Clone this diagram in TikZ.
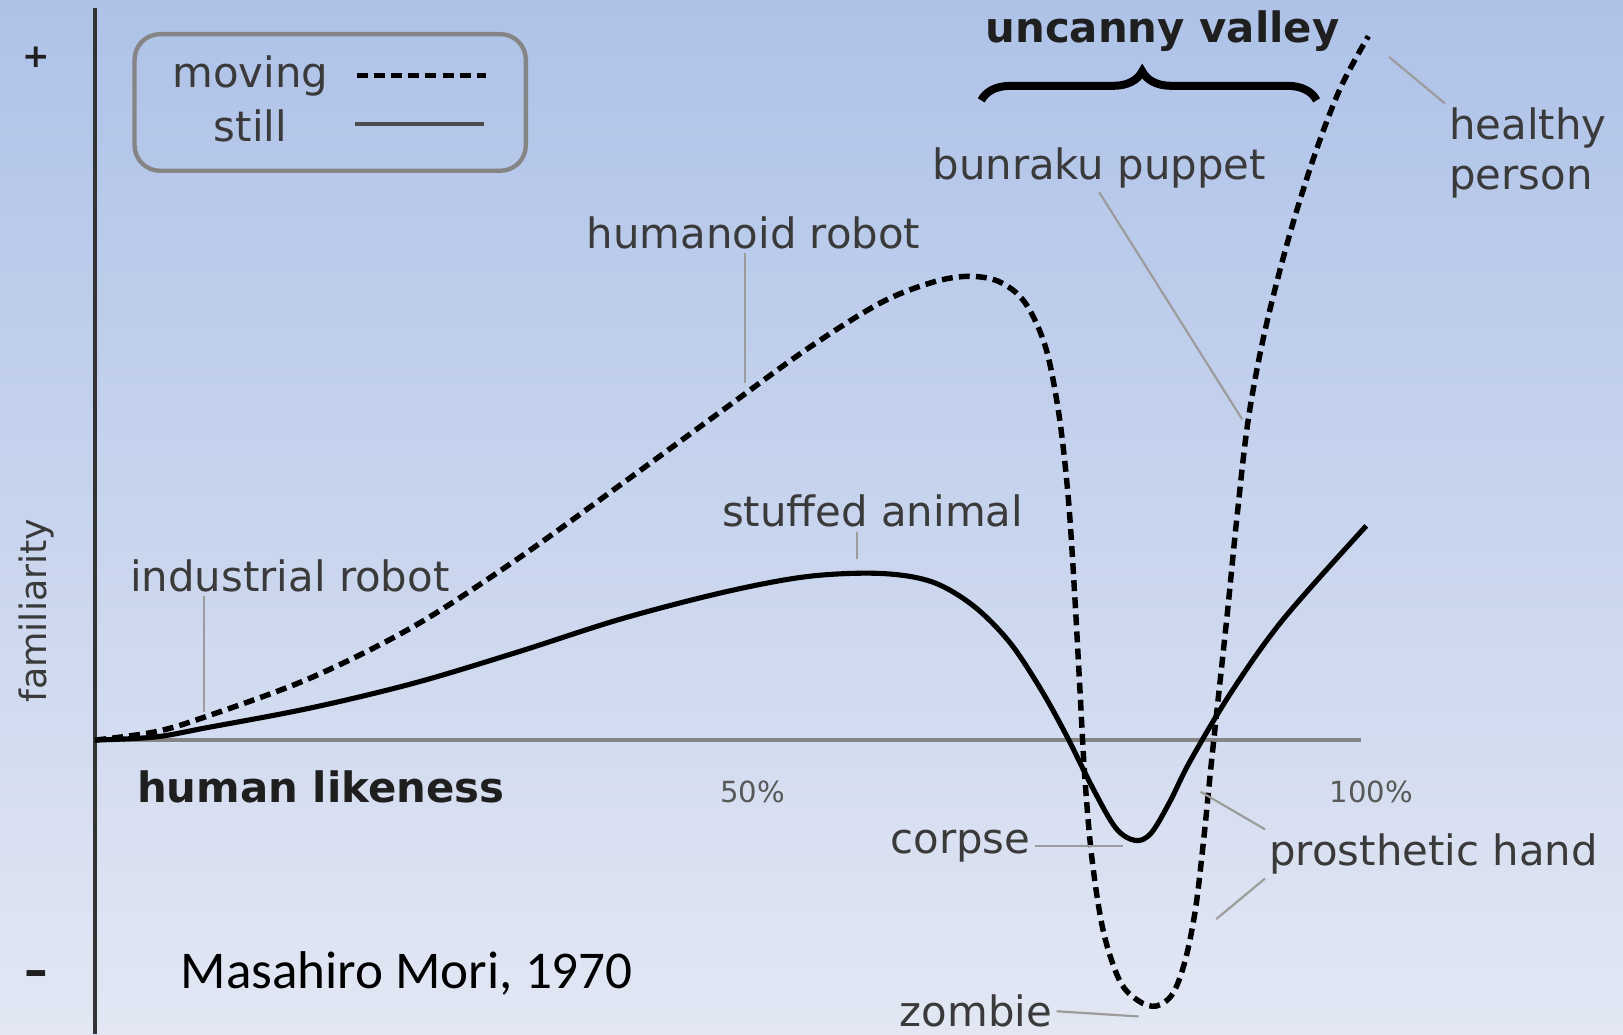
\documentclass[tikz,border=0pt]{standalone}
\usepackage{fontspec}
\setmainfont{DejaVu Sans}
\newfontfamily\carlito{Carlito}
\usepackage{tikz}
\usepackage{xcolor}
\usetikzlibrary{decorations.pathreplacing,calc}
\definecolor{bgtop}{HTML}{AEC2E8}
\definecolor{bgmid}{HTML}{C9D5EE}
\definecolor{bgbot}{HTML}{E2E7F3}
\definecolor{ink}{HTML}{3A3A3A}
\definecolor{axisgray}{HTML}{858585}
\definecolor{leadgray}{HTML}{9C9C9C}

\begin{document}
\begin{tikzpicture}[x=0.1mm,y=-0.1mm,
    every node/.style={font=\fontsize{11.5}{14}\selectfont,text=ink,inner sep=1pt},
    heavy/.style={font=\fontsize{11.5}{14}\selectfont\bfseries,text=black!88},
    pct/.style={font=\fontsize{8}{9}\selectfont,text=black!65},
    leader/.style={draw=leadgray,line width=0.6pt},
    stillline/.style={line width=1.4pt,line join=round},
    movingline/.style={stillline,line width=1.5pt,dash pattern=on 3pt off 1.7pt}]
  % background
  \shade[top color=bgtop,middle color=bgmid,bottom color=bgbot] (0,0) rectangle (1568,999);
  \useasboundingbox (0,0) rectangle (1568,999);
  % axes
  \draw[axisgray,line width=0.9pt] (92,715) -- (1315,715);
  \draw[black!80,line width=1.1pt] (92,8) -- (92,999);
  \node[heavy,font=\fontsize{9}{10}\selectfont\bfseries] (plus) at (35,55) {+};
  \node[heavy,font=\fontsize{13}{14}\selectfont\bfseries] (minus) at (35,945) {–};
  \node[rotate=90,font=\fontsize{10}{12}\selectfont] (fam) at (35,590) {familiarity};
  \node[heavy] (hl) at (310,760) {human likeness};
  \node[pct] (p50) at (727,765) {50\%};
  \node[pct] (p100) at (1325,765) {100\%};

  % legend
  \draw[axisgray,line width=1.2pt,rounded corners=7pt] (130,33) rectangle (508,165);
  \node (lmov) at (242,73) {moving};
  \node (lsti) at (242,122) {still};
  \draw[movingline] (345,73) -- (470,73);
  \draw[black!70,line width=1.1pt] (343,120) -- (468,120);

  % curves
  \draw[stillline] plot[smooth,tension=0.55] coordinates {(92,715) (150,712) (200,703) (300,684)
    (400,660) (500,630) (600,598) (700,572) (780,557) (850,554) (900,562) (940,585) (975,620)
    (1005,665) (1030,710) (1055,760) (1078,800) (1097,812) (1112,805) (1130,775) (1150,735)
    (1190,668) (1240,598) (1320,508)};
  \draw[movingline] plot[smooth,tension=0.55] coordinates {(92,715) (150,707) (200,692) (300,655)
    (400,605) (500,540) (600,468) (700,395) (780,337) (850,293) (900,273) (935,267) (965,272)
    (990,292) (1010,335) (1023,400) (1032,480) (1038,570) (1043,660) (1048,750) (1055,830)
    (1066,900) (1082,948) (1100,967) (1117,972) (1133,960) (1145,928) (1155,878) (1163,810)
    (1170,740) (1178,665) (1186,590) (1195,500) (1206,405) (1222,320) (1245,230) (1270,150)
    (1295,85) (1322,35)};

  % labels
  \node (ind) at (280,556) {industrial robot};
  \node (hum) at (728,225) {humanoid robot};
  \node (stf) at (843,494) {stuffed animal};
  \node (bun) at (1062,162) {bunraku puppet};
  \node[align=left,anchor=north west,font=\fontsize{11.5}{13.6}\selectfont] (hea) at (1396,100) {healthy\\person};
  \node (cor) at (928,817) {corpse};
  \node (pro) at (1385,825) {prosthetic hand};
  \node (zom) at (943,977) {zombie};
  \node[heavy] (unc) at (1123,30) {uncanny valley};
  \node[font=\carlito\fontsize{14.6}{17}\selectfont,text=black] (mori) at (393,940) {Masahiro Mori, 1970};

  % leader ends
  \coordinate (ir) at (197,688);
  \coordinate (hr) at (720,370);
  \coordinate (sa) at (828,540);
  \coordinate (bp) at (1200,405);
  \coordinate (hp) at (1342,55);
  \coordinate (cp) at (1085,817);
  \coordinate (ph1) at (1160,765);
  \coordinate (ph2) at (1175,888);
  \coordinate (zb) at (1100,982);
  \draw[leader] (ind.south -| ir) -- (ir);
  \draw[leader] (hum.south -| hr) -- (hr);
  \draw[leader] (stf.south -| sa) -- (sa);
  \foreach \x/\y in {bun.south/bp,hea.north west/hp,cor.east/cp,pro.north west/ph1,pro.south west/ph2,zom.east/zb}
    \draw[leader] (\x) -- (\y);

  % brace
  \coordinate (ul) at (948,97);
  \coordinate (ur) at (1272,97);
  \draw[black,line width=2.2pt,decorate,decoration={brace,amplitude=8pt,aspect=0.48}] (ul) -- (ur);
\end{tikzpicture}
\end{document}
